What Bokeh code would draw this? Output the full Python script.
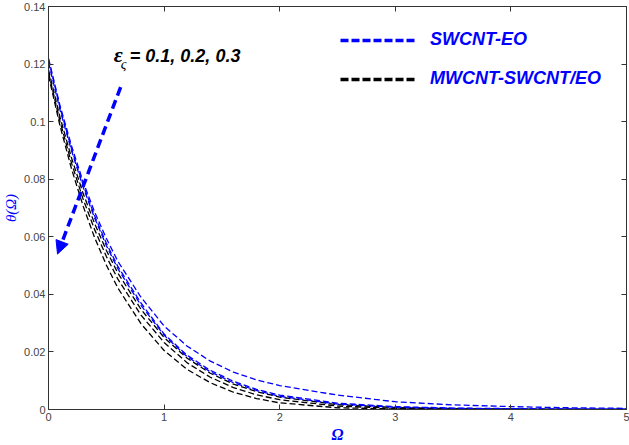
from bokeh.plotting import figure
from bokeh.models import (Range1d, LinearAxis, FixedTicker, Label, Arrow, NormalHead,
                          Legend, LegendItem)
from bokeh.embed import file_html
from bokeh.resources import INLINE

# ---- data ----
omega = [0, 0.1, 0.2, 0.3, 0.4, 0.5, 0.6, 0.8, 1.0, 1.2, 1.4, 1.6, 1.8, 2.0,
         2.5, 3.0, 3.5, 4.0, 4.5, 5.0]

swcnt_eo = [
    [0.1220, 0.1055, 0.0915, 0.0790, 0.0685, 0.0595, 0.0515, 0.0390, 0.0290, 0.0220,
     0.0168, 0.0130, 0.0103, 0.0083, 0.0050, 0.0027, 0.0016, 0.0010, 0.0006, 0.0004],
    [0.1215, 0.1048, 0.0905, 0.0780, 0.0672, 0.0578, 0.0497, 0.0370, 0.0262, 0.0188,
     0.0136, 0.0098, 0.0070, 0.0050, 0.0022, 0.0010, 0.0005, 0.0003, 0.0002, 0.0001],
    [0.1205, 0.1040, 0.0898, 0.0772, 0.0664, 0.0570, 0.0489, 0.0362, 0.0258, 0.0183,
     0.0131, 0.0093, 0.0066, 0.0046, 0.0019, 0.0008, 0.0004, 0.0002, 0.0001, 0.0000],
]
mwcnt_swcnt_eo = [
    [0.1180, 0.1015, 0.0873, 0.0750, 0.0645, 0.0553, 0.0474, 0.0348, 0.0250, 0.0178,
     0.0126, 0.0088, 0.0062, 0.0043, 0.0017, 0.0007, 0.0003, 0.0001, 0.0000, 0.0000],
    [0.1170, 0.1000, 0.0855, 0.0730, 0.0624, 0.0532, 0.0453, 0.0328, 0.0233, 0.0162,
     0.0112, 0.0076, 0.0051, 0.0034, 0.0012, 0.0004, 0.0002, 0.0001, 0.0000, 0.0000],
    [0.1160, 0.0985, 0.0835, 0.0706, 0.0596, 0.0502, 0.0422, 0.0298, 0.0205, 0.0139,
     0.0093, 0.0060, 0.0038, 0.0023, 0.0006, 0.0002, 0.0001, 0.0000, 0.0000, 0.0000],
]

x_ticks = [0, 1, 2, 3, 4, 5]
x_tick_labels = ["0", "1", "2", "3", "4", "5"]
y_ticks = [0, 0.02, 0.04, 0.06, 0.08, 0.1, 0.12, 0.14]
y_tick_labels = ["0", "0.02", "0.04", "0.06", "0.08", "0.1", "0.12", "0.14"]

arrow_start = (0.624, 0.112)
arrow_end = (0.078, 0.054)
annot_pos = (0.565, 0.1228)

legend_labels = ["SWCNT-EO", "MWCNT-SWCNT/EO"]

BLUE = "#0000FF"
BLACK = "#000000"
AX = "#333333"

p = figure(width=629, height=445, output_backend="svg", toolbar_location=None,
           x_range=Range1d(0, 5), y_range=Range1d(0, 0.14),
           min_border_left=48, min_border_right=3, min_border_top=6, min_border_bottom=35,
           background_fill_color="white", border_fill_color="white")
p.grid.visible = False
p.outline_line_color = AX
p.outline_line_width = 1

def style_axis(ax, ticks, labels, show_labels=True):
    ax.ticker = FixedTicker(ticks=ticks)
    if show_labels:
        ax.major_label_overrides = {t: l for t, l in zip(ticks, labels)}
    else:
        ax.major_label_overrides = {t: "" for t in ticks}
    ax.major_tick_in = 5
    ax.major_tick_out = 0
    ax.minor_tick_line_color = None
    ax.axis_line_color = AX
    ax.major_tick_line_color = AX
    ax.major_label_text_font = "Liberation Sans"
    ax.major_label_text_font_size = "11px" if show_labels else "1px"
    ax.major_label_text_color = "#444444"
    ax.major_label_standoff = 3 if show_labels else 0

style_axis(p.xaxis[0], x_ticks, x_tick_labels)
style_axis(p.yaxis[0], y_ticks, y_tick_labels)

p.xaxis[0].axis_label = "Ω"
p.xaxis[0].axis_label_text_font = "Liberation Serif"
p.xaxis[0].axis_label_text_font_style = "bold italic"
p.xaxis[0].axis_label_text_font_size = "16px"
p.xaxis[0].axis_label_text_color = BLUE
p.xaxis[0].axis_label_standoff = 2

p.yaxis[0].axis_label = "θ(Ω)"
p.yaxis[0].axis_label_text_font = "Liberation Serif"
p.yaxis[0].axis_label_text_font_style = "italic"
p.yaxis[0].axis_label_text_font_size = "15px"
p.yaxis[0].axis_label_text_color = BLUE
p.yaxis[0].axis_label_standoff = 2

top = LinearAxis()
style_axis(top, x_ticks, x_tick_labels, show_labels=False)
p.add_layout(top, "above")
right = LinearAxis()
style_axis(right, y_ticks, y_tick_labels, show_labels=False)
p.add_layout(right, "right")

for ys in mwcnt_swcnt_eo:
    p.line(omega, ys, line_color=BLACK, line_width=1.3, line_dash="6 3")
for ys in swcnt_eo:
    p.line(omega, ys, line_color=BLUE, line_width=1.3, line_dash="6 3")

# legend proxies (thicker dashes), no visible data
nan = float("nan")
lb = p.line([nan], [nan], line_color=BLUE, line_width=3.5, line_dash="8 3")
lk = p.line([nan], [nan], line_color=BLACK, line_width=3.5, line_dash="8 3")
leg = Legend(items=[LegendItem(label=legend_labels[0], renderers=[lb]),
                    LegendItem(label=legend_labels[1], renderers=[lk])],
             location=(292, 320), orientation="vertical",
             glyph_width=76, glyph_height=20, label_height=20, spacing=18,
             label_standoff=14, padding=0, margin=0,
             border_line_color=None, background_fill_alpha=0,
             label_text_font="Liberation Sans", label_text_font_style="bold italic",
             label_text_font_size="18px", label_text_color=BLUE)
p.add_layout(leg)

# arrow
p.add_layout(Arrow(x_start=arrow_start[0], y_start=arrow_start[1],
                   x_end=arrow_end[0], y_end=arrow_end[1],
                   line_color=BLUE, line_width=3.5, line_dash="9 5",
                   end=NormalHead(size=13, fill_color=BLUE, line_color=BLUE, line_width=1)))

# annotation text
p.add_layout(Label(x=annot_pos[0], y=annot_pos[1], y_offset=2, text="ε",
                   text_font="Liberation Serif", text_font_style="bold italic",
                   text_font_size="22px", text_color=BLACK, text_baseline="alphabetic"))
p.add_layout(Label(x=annot_pos[0], y=annot_pos[1], x_offset=7, y_offset=-8, text="ς",
                   text_font="Liberation Serif", text_font_style="italic",
                   text_font_size="14px", text_color=BLACK, text_baseline="alphabetic"))
p.add_layout(Label(x=annot_pos[0], y=annot_pos[1], x_offset=16, text="= 0.1, 0.2, 0.3",
                   text_font="Liberation Sans", text_font_style="bold italic",
                   text_font_size="18px", text_color=BLACK, text_baseline="alphabetic"))

open("out.html", "w").write(file_html(p, INLINE))
